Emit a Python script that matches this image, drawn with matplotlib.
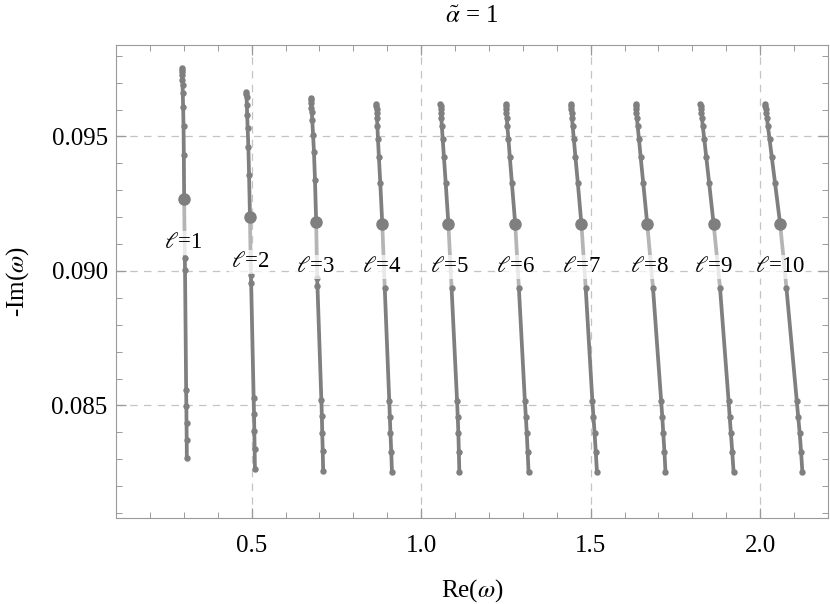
import numpy as np
import matplotlib.pyplot as plt
from matplotlib.ticker import MultipleLocator

plt.rcParams['font.family'] = ['Liberation Serif', 'DejaVu Serif']
plt.rcParams['mathtext.fontset'] = 'stix'

ells = [1, 2, 3, 4, 5, 6, 7, 8, 9, 10]

# upper branch: top of the curve down to the big dot (last entry)
upper_im_1 = [0.097546, 0.097472, 0.097398, 0.097286, 0.097100, 0.096914, 0.096617,
              0.096097, 0.095390, 0.094312, 0.092665]
upper_im_2 = [0.096654, 0.096580, 0.096468, 0.096171, 0.095799, 0.095316, 0.094610,
              0.093569, 0.092019]
upper_im_3 = [0.096420, 0.096357, 0.096245, 0.096059, 0.095911, 0.095613, 0.095056,
              0.094424, 0.093383, 0.091833]
upper_im_n = [0.096208, 0.096134, 0.096022, 0.095874, 0.095688, 0.095390, 0.094907,
              0.094238, 0.093271, 0.091747]

upper_re = [
    [0.2941, 0.2944, 0.2947, 0.2950, 0.2956, 0.2962, 0.2968, 0.2979, 0.2991, 0.3000, 0.3009],
    [0.4844, 0.4847, 0.4850, 0.4859, 0.4868, 0.4882, 0.4903, 0.4924, 0.4950],
    [0.6744, 0.6747, 0.6753, 0.6765, 0.6774, 0.6788, 0.6812, 0.6838, 0.6868, 0.6903],
    [0.8676, 0.8679, 0.8685, 0.8691, 0.8697, 0.8709, 0.8726, 0.8753, 0.8794, 0.8853],
    [1.0568, 1.0574, 1.0579, 1.0585, 1.0597, 1.0609, 1.0635, 1.0671, 1.0724, 1.0803],
    [1.2491, 1.2497, 1.2506, 1.2515, 1.2526, 1.2541, 1.2574, 1.2615, 1.2676, 1.2774],
    [1.4412, 1.4418, 1.4426, 1.4438, 1.4450, 1.4468, 1.4503, 1.4550, 1.4621, 1.4726],
    [1.6324, 1.6329, 1.6341, 1.6350, 1.6365, 1.6385, 1.6424, 1.6474, 1.6550, 1.6668],
    [1.8235, 1.8244, 1.8256, 1.8268, 1.8282, 1.8306, 1.8350, 1.8409, 1.8494, 1.8626],
    [2.0147, 2.0156, 2.0171, 2.0182, 2.0200, 2.0226, 2.0276, 2.0341, 2.0438, 2.0588],
]
upper_im = [upper_im_1, upper_im_2, upper_im_3] + [upper_im_n] * 7

# lower branch: from below the label down to the bottom
lower_im_1 = [0.090483, 0.090037, 0.085576, 0.084981, 0.084349, 0.083717, 0.083048]
lower_im_2 = [0.089851, 0.089554, 0.085279, 0.084684, 0.084052, 0.083383, 0.082639]
lower_im_3 = [0.089740, 0.089442, 0.085204, 0.084610, 0.083978, 0.083309, 0.082565]
lower_im_n = [0.089368, 0.085167, 0.084572, 0.083978, 0.083271, 0.082528]

lower_re = [
    [0.3029, 0.3035, 0.3068, 0.3074, 0.3079, 0.3085, 0.3088],
    [0.4976, 0.4985, 0.5059, 0.5071, 0.5079, 0.5088, 0.5097],
    [0.6932, 0.6941, 0.7056, 0.7071, 0.7082, 0.7097, 0.7109],
    [0.8926, 0.9059, 0.9076, 0.9094, 0.9118, 0.9138],
    [1.0897, 1.1059, 1.1079, 1.1097, 1.1112, 1.1126],
    [1.2882, 1.3059, 1.3088, 1.3115, 1.3141, 1.3168],
    [1.4853, 1.5050, 1.5082, 1.5115, 1.5150, 1.5185],
    [1.6838, 1.7079, 1.7112, 1.7141, 1.7176, 1.7206],
    [1.8815, 1.9068, 1.9100, 1.9135, 1.9176, 1.9215],
    [2.0774, 2.1079, 2.1121, 2.1165, 2.1206, 2.1244],
]
lower_im = [lower_im_1, lower_im_2, lower_im_3] + [lower_im_n] * 7

label_re = [0.2985, 0.4941, 0.6882, 0.8824, 1.0824, 1.2794, 1.4735, 1.6735, 1.8618, 2.0588]
label_im = [0.091041, 0.090335, 0.090149, 0.090149, 0.090149, 0.090149, 0.090149,
            0.090149, 0.090149, 0.090149]

dark = '#7f7f7f'
light = '#b5b5b5'

fig = plt.figure(figsize=(8.3, 6.04), dpi=100)
ax = fig.add_axes([0.1398, 0.1424, 0.8578, 0.7831])

for i, ell in enumerate(ells):
    ur, ui = upper_re[i], upper_im[i]
    lr, li = lower_re[i], lower_im[i]
    # faded piece between the big dot and the lower branch
    ax.plot([ur[-1], lr[0]], [ui[-1], li[0]], color=light, lw=2.7, zorder=2,
            solid_capstyle='butt')
    ax.plot(ur, ui, color=dark, lw=2.7, marker='o', ms=3.6, zorder=3,
            solid_capstyle='round')
    ax.plot(lr, li, color=dark, lw=2.7, marker='o', ms=3.6, zorder=3,
            solid_capstyle='round')
    ax.plot(ur[-1], ui[-1], 'o', color=dark, ms=8, zorder=4)
    ax.text(label_re[i], label_im[i], r'$\ell$=%d' % ell, fontsize=16.5,
            ha='center', va='center', zorder=5,
            bbox=dict(boxstyle='square,pad=0.05', fc='white', ec='none', alpha=0.7))

ax.set_xlim(0.1, 2.2)
ax.set_ylim(0.080818, 0.098401)
ax.xaxis.set_major_locator(MultipleLocator(0.5))
ax.xaxis.set_minor_locator(MultipleLocator(0.1))
ax.yaxis.set_major_locator(MultipleLocator(0.005))
ax.yaxis.set_minor_locator(MultipleLocator(0.001))
ax.xaxis.set_major_formatter(plt.FormatStrFormatter('%.1f'))
ax.yaxis.set_major_formatter(plt.FormatStrFormatter('%.3f'))

ax.grid(True, which='major', color='#c4c4c4', ls=(0, (6, 5)), lw=0.9)
for s in ax.spines.values():
    s.set_color('#9a9a9a')
ax.tick_params(which='both', direction='in', top=True, right=True, colors='#9a9a9a',
               labelcolor='black', labelsize=18)
ax.tick_params(which='major', length=7, width=0.9)
ax.tick_params(which='minor', length=4, width=0.7)
ax.tick_params(axis='x', pad=12)
ax.tick_params(axis='y', pad=6)

ax.set_xlabel(r'Re($\omega$)', fontsize=18, labelpad=15)
ax.set_ylabel(r'-Im($\omega$)', fontsize=18, labelpad=15)
ax.set_title(r'$\tilde{\alpha}$ = 1', fontsize=18, pad=16)

fig.savefig('out.png', dpi=100)
